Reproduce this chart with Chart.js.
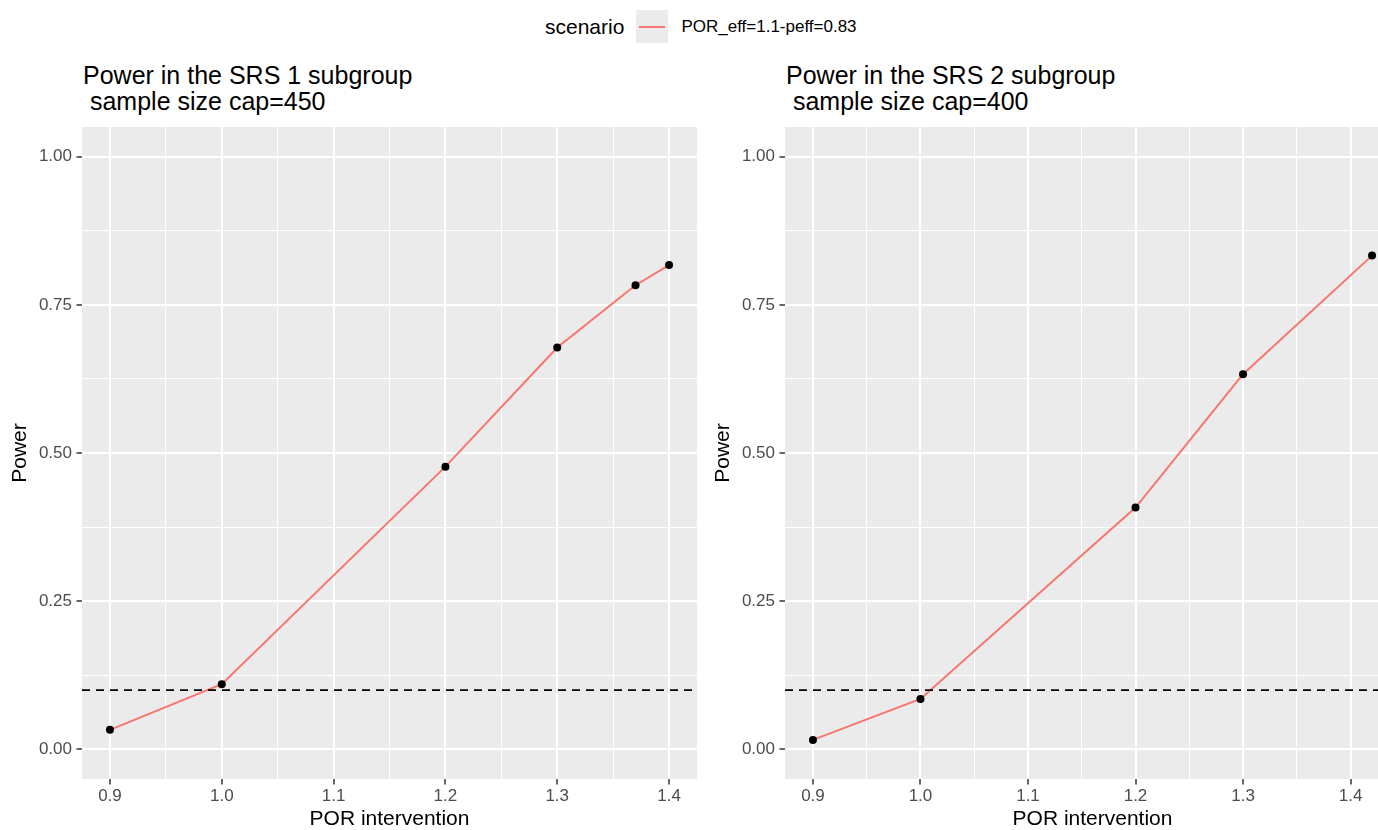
<!DOCTYPE html>
<html>
<head>
<meta charset="utf-8">
<title>Power by POR intervention</title>
<script src="https://cdn.jsdelivr.net/npm/chart.js@4.4.0/dist/chart.umd.min.js"></script>
<style>
    html, body {
        margin: 0;
        padding: 0;
        width: 1378px;
        height: 830px;
        overflow: hidden;
        background: #fff;
        font-family: "Liberation Sans", Arial, sans-serif;
    }
    canvas { position: absolute; top: 0; }
    #chart-srs1 { left: 0; }
    #chart-srs2 { left: 703px; }
    .panel-title {
        position: absolute;
        top: 62px;
        font-size: 25px;
        line-height: 26px;
        color: #000;
        white-space: pre;
    }
    #legend {
        position: absolute;
        top: 10px;
        left: 545px;
        height: 33px;
        display: flex;
        align-items: center;
        white-space: nowrap;
    }
    #legend .legend-title { font-size: 21px; color: #000; margin-right: 12px; }
    #legend .legend-key {
        width: 32px;
        height: 33px;
        background: #EBEBEB;
        position: relative;
        margin-right: 13px;
    }
    #legend .legend-key span {
        position: absolute;
        left: 3px;
        right: 3px;
        top: 15.5px;
        height: 2px;
        background: #F8766D;
    }
    #legend .legend-label { font-size: 17px; color: #000; }
</style>
</head>
<body>
<div id="legend">
    <span class="legend-title">scenario</span>
    <span class="legend-key"><span></span></span>
    <span class="legend-label">POR_eff=1.1-peff=0.83</span>
</div>
<div class="panel-title" style="left:83px">Power in the SRS 1 subgroup
 sample size cap=450</div>
<div class="panel-title" style="left:786px">Power in the SRS 2 subgroup
 sample size cap=400</div>
<canvas id="chart-srs1" width="703" height="830"></canvas>
<canvas id="chart-srs2" width="702" height="830"></canvas>
<script>
// Axis breaks
const xMajor = [0.9, 1.0, 1.1, 1.2, 1.3, 1.4];
const yMajor = [0, 0.25, 0.5, 0.75, 1.0];
const yLimits = [0, 1];
const threshold = 0.1;

// SRS 1 subgroup (cap = 450)
const srs1Por = [0.9, 1.0, 1.2, 1.3, 1.37, 1.4];
const srs1Power = [0.033, 0.11, 0.477, 0.678, 0.783, 0.817];

// SRS 2 subgroup (cap = 400)
const srs2Por = [0.9, 1.0, 1.2, 1.3, 1.42];
const srs2Power = [0.016, 0.085, 0.408, 0.633, 0.833];

const FONT = '"Liberation Sans", Arial, sans-serif';
const LINE_COLOR = '#F8766D';

// ggplot style: 5% expansion on both ends of a continuous range
function expand(lo, hi) {
    const pad = (hi - lo) * 0.05;
    return [lo - pad, hi + pad];
}

// major breaks plus the minor breaks halfway between them
function withMinor(major) {
    const out = [];
    major.forEach((v, i) => {
        out.push(v);
        if (i < major.length - 1) out.push((v + major[i + 1]) / 2);
    });
    return out;
}

const isMajor = (breaks, v) => breaks.some(m => Math.abs(m - v) < 1e-9);

// grey panel background and the dashed reference line
const panelPlugin = {
    id: 'panel',
    beforeDraw(chart) {
        const { ctx, chartArea: a } = chart;
        ctx.save();
        ctx.fillStyle = '#EBEBEB';
        ctx.fillRect(a.left, a.top, a.right - a.left, a.bottom - a.top);
        ctx.restore();
    },
    afterDatasetsDraw(chart) {
        const { ctx, chartArea: a } = chart;
        const y = chart.scales.y.getPixelForValue(threshold);
        ctx.save();
        ctx.strokeStyle = '#000';
        ctx.lineWidth = 1.6;
        ctx.setLineDash([8, 6]);
        ctx.beginPath();
        ctx.moveTo(a.left, y);
        ctx.lineTo(a.right, y);
        ctx.stroke();
        ctx.restore();
    }
};

function makeChart(canvasId, por, power, rightPad) {
    const [xMin, xMax] = expand(Math.min(...por), Math.max(...por));
    const [yMin, yMax] = expand(yLimits[0], yLimits[1]);
    const xBreaks = withMinor(xMajor).filter(v => v >= xMin && v <= xMax);
    const yBreaks = withMinor(yMajor).filter(v => v >= yMin && v <= yMax);

    const gridFor = (breaks) => ({
        color: '#FFFFFF',
        lineWidth: c => (c.tick && isMajor(breaks, c.tick.value)) ? 2 : 1,
        drawTicks: true,
        tickLength: 5.5,
        tickWidth: 1.5,
        tickColor: c => (c.tick && isMajor(breaks, c.tick.value)) ? '#333333' : 'rgba(0,0,0,0)'
    });

    return new Chart(document.getElementById(canvasId), {
        type: 'line',
        data: {
            datasets: [{
                label: 'POR_eff=1.1-peff=0.83',
                data: por.map((x, i) => ({ x: x, y: power[i] })),
                borderColor: LINE_COLOR,
                borderWidth: 2,
                tension: 0,
                pointRadius: 4,
                pointHoverRadius: 4,
                pointBackgroundColor: '#000',
                pointBorderWidth: 0
            }]
        },
        options: {
            responsive: false,
            animation: false,
            layout: { padding: { top: 127, right: rightPad, bottom: 0, left: 0 } },
            plugins: {
                legend: { display: false },
                tooltip: { enabled: false }
            },
            scales: {
                x: {
                    type: 'linear',
                    min: xMin,
                    max: xMax,
                    afterBuildTicks: s => { s.ticks = xBreaks.map(v => ({ value: v })); },
                    afterFit: s => { s.height = 51; },
                    grid: gridFor(xMajor),
                    border: { display: false },
                    ticks: {
                        autoSkip: false,
                        maxRotation: 0,
                        padding: 2,
                        color: '#4D4D4D',
                        font: { family: FONT, size: 17 },
                        callback: v => isMajor(xMajor, v) ? v.toFixed(1) : ''
                    },
                    title: {
                        display: true,
                        text: 'POR intervention',
                        color: '#000',
                        font: { family: FONT, size: 21, lineHeight: 1 },
                        padding: 0
                    }
                },
                y: {
                    type: 'linear',
                    min: yMin,
                    max: yMax,
                    afterBuildTicks: s => { s.ticks = yBreaks.map(v => ({ value: v })); },
                    afterFit: s => { s.width = 82; },
                    grid: gridFor(yMajor),
                    border: { display: false },
                    ticks: {
                        autoSkip: false,
                        padding: 4.5,
                        color: '#4D4D4D',
                        font: { family: FONT, size: 17 },
                        callback: v => isMajor(yMajor, v) ? v.toFixed(2) : ''
                    },
                    title: {
                        display: true,
                        text: 'Power',
                        color: '#000',
                        font: { family: FONT, size: 21, lineHeight: 1 },
                        padding: { top: 9.5, bottom: 0 }
                    }
                }
            }
        },
        plugins: [panelPlugin]
    });
}

document.addEventListener('DOMContentLoaded', () => {
    makeChart('chart-srs1', srs1Por, srs1Power, 6);
    makeChart('chart-srs2', srs2Por, srs2Power, 5);
});
</script>
</body>
</html>
